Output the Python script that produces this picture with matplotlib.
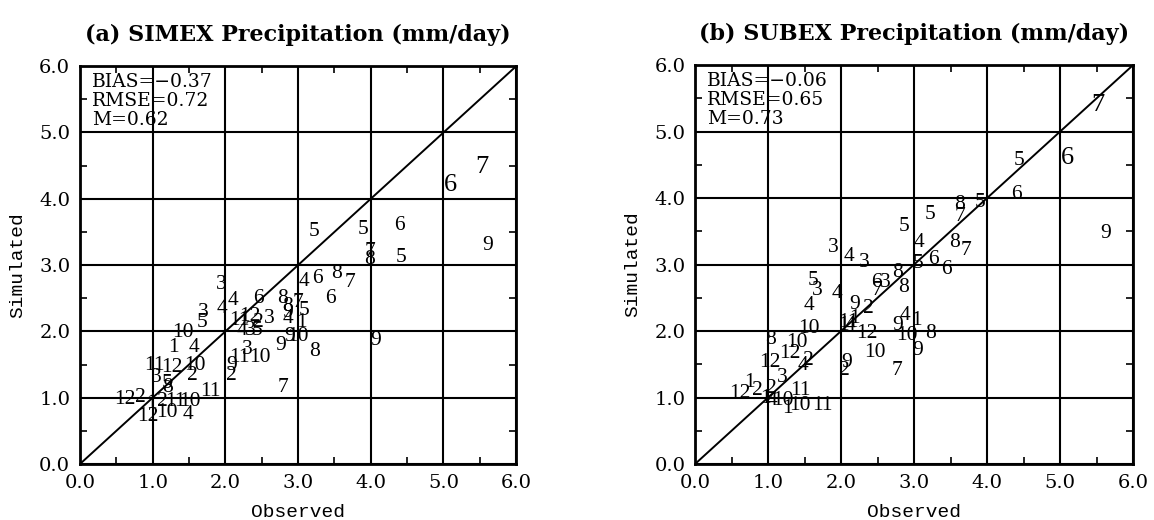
import numpy as np
import matplotlib
matplotlib.use('Agg')
import matplotlib.pyplot as plt
from matplotlib.ticker import MultipleLocator

# Monthly precipitation (mm/day), each point labelled with its month number.

simex_month = [5, 5, 6, 6, 7, 9, 5, 7, 8, 4, 6, 8, 7, 6, 3, 4, 4, 6, 8, 7, 5, 8,
               9, 4, 1, 3, 11, 12, 2, 4, 3, 5, 9, 10, 9, 8, 9, 3, 10, 11, 9, 2,
               7, 10, 5, 3, 1, 4, 11, 12, 10, 2, 3, 5, 8, 11, 12, 2, 1, 2, 11,
               10, 12, 10, 4]
simex_obs = [3.22, 3.89, 4.39, 5.09, 5.53, 5.61, 4.42, 3.99, 3.98, 3.08, 3.27,
             3.53, 3.71, 3.45, 1.94, 2.10, 1.95, 2.46, 2.78, 3.00, 3.08, 2.85,
             2.85, 2.86, 3.05, 2.61, 2.20, 2.34, 2.45, 2.23, 2.34, 2.43, 2.89,
             3.00, 2.76, 3.23, 4.06, 2.30, 2.48, 2.20, 2.09, 2.08, 2.79, 1.42,
             1.68, 1.69, 1.28, 1.57, 1.03, 1.26, 1.58, 1.55, 1.05, 1.20, 1.21,
             1.79, 0.62, 0.83, 0.98, 1.13, 1.31, 1.51, 0.94, 1.20, 1.49]
simex_sim = [3.51, 3.53, 3.59, 4.21, 4.48, 3.30, 3.11, 3.20, 3.09, 2.76, 2.80,
             2.88, 2.73, 2.50, 2.70, 2.46, 2.35, 2.49, 2.50, 2.43, 2.31, 2.37,
             2.28, 2.19, 2.14, 2.20, 2.17, 2.22, 2.14, 2.02, 2.02, 2.02, 1.93,
             1.92, 1.78, 1.69, 1.87, 1.73, 1.61, 1.60, 1.48, 1.34, 1.15, 1.99,
             2.13, 2.28, 1.76, 1.76, 1.49, 1.46, 1.49, 1.34, 1.31, 1.22, 1.15,
             1.09, 0.98, 1.00, 0.92, 0.94, 0.94, 0.94, 0.71, 0.77, 0.74]

subex_month = [7, 6, 5, 6, 5, 8, 7, 5, 5, 9, 8, 7, 4, 3, 4, 3, 5, 6, 6, 8, 8, 6,
               3, 7, 5, 3, 4, 4, 9, 2, 11, 1, 12, 9, 4, 1, 10, 8, 10, 9, 10, 8,
               10, 12, 12, 2, 4, 3, 1, 12, 2, 2, 1, 4, 10, 11, 1, 10, 11, 9, 2,
               7, 1, 4]
subex_obs = [5.52, 5.10, 4.44, 4.40, 3.90, 3.62, 3.63, 3.22, 2.86, 5.62, 3.55,
             3.71, 3.07, 1.90, 2.11, 2.32, 3.05, 3.27, 3.45, 2.78, 2.85, 2.48,
             2.60, 2.49, 1.62, 1.67, 1.94, 1.56, 2.19, 2.38, 2.10, 2.19, 2.36,
             2.78, 2.88, 3.04, 2.90, 3.22, 1.56, 3.05, 2.47, 1.03, 1.40, 1.03,
             1.30, 1.55, 1.48, 1.19, 0.75, 0.62, 0.85, 1.05, 0.96, 1.05, 1.21,
             1.44, 1.27, 1.44, 1.75, 2.08, 2.05, 2.77, 2.03, 2.12]
subex_sim = [5.40, 4.60, 4.56, 4.06, 3.93, 3.91, 3.73, 3.76, 3.58, 3.46, 3.33,
             3.21, 3.33, 3.25, 3.12, 3.03, 3.01, 3.07, 2.92, 2.88, 2.65, 2.73,
             2.73, 2.61, 2.76, 2.61, 2.56, 2.38, 2.40, 2.34, 2.13, 2.19, 1.96,
             2.08, 2.23, 2.16, 1.93, 1.96, 2.04, 1.71, 1.68, 1.87, 1.83, 1.53,
             1.66, 1.56, 1.48, 1.30, 1.23, 1.06, 1.11, 1.14, 0.99, 0.96, 0.96,
             1.11, 0.84, 0.88, 0.88, 1.53, 1.41, 1.41, 2.08, 2.08]

titles = ['(a) SIMEX Precipitation (mm/day)', '(b) SUBEX Precipitation (mm/day)']
stats = [('-0.37', '0.72', '0.62'), ('-0.06', '0.65', '0.73')]
ticks = [0.0, 1.0, 2.0, 3.0, 4.0, 5.0, 6.0]

plt.rcParams['font.family'] = 'DejaVu Serif'

fig = plt.figure(figsize=(11.54, 5.2), dpi=100)
axes = [fig.add_axes([0.0693, 0.1077, 0.378, 0.765]),
        fig.add_axes([0.6023, 0.1077, 0.3795, 0.767])]

panels = [(simex_month, simex_obs, simex_sim), (subex_month, subex_obs, subex_sim)]

for ax, (month, obs, sim), title, (bias, rmse, m) in zip(axes, panels, titles, stats):
    ax.set_xlim(0, 6)
    ax.set_ylim(0, 6)
    ax.set_xticks(ticks)
    ax.set_yticks(ticks)
    ax.set_xticklabels(['%.1f' % t for t in ticks], fontsize=14)
    ax.set_yticklabels(['%.1f' % t for t in ticks], fontsize=14)
    ax.xaxis.set_minor_locator(MultipleLocator(0.5))
    ax.yaxis.set_minor_locator(MultipleLocator(0.5))
    ax.tick_params(which='both', direction='in', top=True, right=True,
                   width=1.2, color='black')
    ax.tick_params(which='major', length=0, pad=7)
    ax.tick_params(which='minor', length=5)
    ax.grid(True, which='major', color='black', linewidth=1.5)
    for spine in ax.spines.values():
        spine.set_linewidth(2.0)

    # 1:1 line
    ax.plot([0, 6], [0, 6], color='black', linewidth=1.4)

    for mo, o, s in zip(month, obs, sim):
        fs = 19 if (o >= 5.0 and s >= 4.0) else 15.5
        ax.text(o, s, str(mo), ha='center', va='center', fontsize=fs,
                color='black', family='Liberation Serif')

    ax.text(0.027, 0.983, 'BIAS=\u2212%s\nRMSE=%s\nM=%s' % (bias.lstrip('-'), rmse, m),
            transform=ax.transAxes, ha='left', va='top', fontsize=13.5,
            linespacing=1.08)

    ax.set_title(title, fontsize=16, fontweight='bold', pad=18)
    ax.set_xlabel('Observed', fontsize=14, family='Liberation Mono', labelpad=9)
    ax.set_ylabel('Simulated', fontsize=14, family='Liberation Mono', labelpad=9)

fig.savefig('out.png', dpi=100)
